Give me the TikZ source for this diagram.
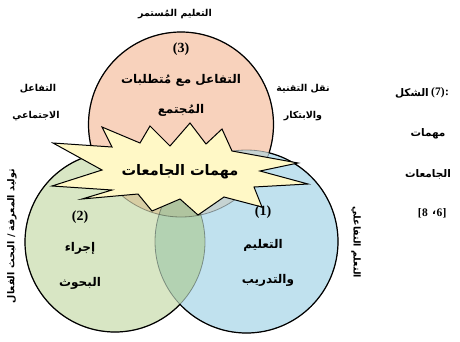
\documentclass[tikz,border=0pt]{standalone}
\usepackage{fontspec}
\TeXXeTstate=1
\newfontfamily\arabicfont[Script=Arabic]{DejaVu Sans}
\newfontfamily\numfont{Liberation Serif}
\newcommand\artext[1]{\beginR #1\endR}
\newcommand\lrtext[1]{\beginL #1\endL}

\definecolor{peach}{HTML}{F8D2BC}
\definecolor{leaf}{HTML}{D8E6C4}
\definecolor{sky}{HTML}{C0E1EE}
\definecolor{peachleaf}{HTML}{D8CEA4}
\definecolor{peachsky}{HTML}{C6D3D2}
\definecolor{leafsky}{HTML}{B3D2B2}
\definecolor{allthree}{HTML}{B0C49F}
\definecolor{burst}{HTML}{FFF8C6}

\tikzset{
  outline/.style={draw=black, line width=1.2pt},
  faintline/.style={draw=black, draw opacity=0.35, line width=0.8pt},
  lbl/.style={font=\arabicfont\bfseries\fontsize{9.5}{10}\selectfont, inner sep=0pt},
  vlbl/.style={font=\arabicfont\bfseries\fontsize{9.5}{10}\selectfont, inner sep=0pt},
  inlbl/.style={font=\arabicfont\bfseries\fontsize{12}{13}\selectfont, inner sep=0pt},
  corelbl/.style={font=\arabicfont\bfseries\fontsize{14.5}{15}\selectfont, inner sep=0pt},
  numlbl/.style={font=\numfont\bfseries\fontsize{14}{15}\selectfont, inner sep=0pt},
  sidelbl/.style={font=\arabicfont\bfseries\fontsize{10.5}{12}\selectfont, inner sep=0pt},
  sidenum/.style={font=\numfont\bfseries\fontsize{11.5}{13}\selectfont, inner sep=0pt},
}

\begin{document}
\begin{tikzpicture}[x=1pt,y=-1pt]
\useasboundingbox (0,0) rectangle (460,341);
\fill[white] (0,0) rectangle (460,341);

% circle centres
\coordinate (cT) at (181,124.5);
\coordinate (cG) at (115,242);
\coordinate (cB) at (246.5,241.5);
\def\rT{92.5pt}
\def\rG{90pt}
\def\rB{91.5pt}

% base fills
\fill[peach] (cT) circle[radius=\rT];
\fill[leaf] (cG) circle[radius=\rG];
\fill[sky] (cB) circle[radius=\rB];

% pairwise overlaps
\begin{scope}
  \clip (cT) circle[radius=\rT];
  \fill[peachsky] (cB) circle[radius=\rB];
  \fill[peachleaf] (cG) circle[radius=\rG];
\end{scope}
\begin{scope}
  \clip (cG) circle[radius=\rG];
  \fill[leafsky] (cB) circle[radius=\rB];
  \clip (cB) circle[radius=\rB];
  \fill[allthree] (cT) circle[radius=\rT];
\end{scope}

% inner arcs, faint
\path[faintline] (cT) circle[radius=\rT];
\path[faintline] (cG) circle[radius=\rG];
\path[faintline] (cB) circle[radius=\rB];

% outer arcs, black
\begin{scope}[even odd rule]
  \clip (-20,-20) rectangle (480,360) (cG) circle[radius=\rG];
  \clip (-20,-20) rectangle (480,360) (cB) circle[radius=\rB];
  \path[outline] (cT) circle[radius=\rT];
\end{scope}
\begin{scope}[even odd rule]
  \clip (-20,-20) rectangle (480,360) (cT) circle[radius=\rT];
  \clip (-20,-20) rectangle (480,360) (cB) circle[radius=\rB];
  \path[outline] (cG) circle[radius=\rG];
\end{scope}
\begin{scope}[even odd rule]
  \clip (-20,-20) rectangle (480,360) (cT) circle[radius=\rT];
  \clip (-20,-20) rectangle (480,360) (cG) circle[radius=\rG];
  \path[outline] (cB) circle[radius=\rB];
\end{scope}

% central burst
\draw[fill=burst, draw=black, line width=1pt, line join=miter]
  (53,143) -- (112,147) -- (102,127) -- (140,143) -- (150,126) -- (170,146)
  -- (190,123) -- (206,144) -- (222,129) -- (232,151) -- (298,163)
  -- (260,171) -- (308,184) -- (254,187) -- (262,207) -- (224,197)
  -- (198,215) -- (180,199) -- (152,211) -- (138,194) -- (82,199)
  -- (112,190) -- (52,186) -- (102,170) -- cycle;
\node[corelbl] (core) at (180,172) {\artext{مهمات الجامعات}};

% top circle texts
\node[numlbl] (n3) at (181,49) {(3)};
\node[inlbl] (t3a) at (181,80) {\artext{التفاعل مع مُتطلبات}};
\node[inlbl] (t3b) at (181,110) {\artext{المُجتمع}};

% left circle texts
\node[numlbl] (n2) at (80,217) {(2)};
\node[inlbl] (t2a) at (80,248) {\artext{إجراء}};
\node[inlbl] (t2b) at (80,283) {\artext{البحوث}};

% right circle texts
\node[numlbl] (n1) at (263,212) {(1)};
\node[inlbl] (t1a) at (263,245) {\artext{التعليم}};
\node[inlbl] (t1b) at (268,280) {\artext{والتدريب}};

% outside labels
\node[lbl] (top) at (175,14) {\artext{التعليم المُستمر}};
\node[lbl] (soc1) at (38,89) {\artext{التفاعل}};
\node[lbl] (soc2) at (36,116) {\artext{الاجتماعي}};
\node[lbl] (tec1) at (303,89) {\artext{نقل التقنية}};
\node[lbl] (tec2) at (303,116) {\artext{والابتكار}};
\node[vlbl, rotate=90] (know) at (12,236) {\artext{توليد المعرفة / البحث الفعال}};
\node[vlbl, rotate=-90] (inter) at (356,242) {\artext{التعلم التفاعلي}};

% caption column: each piece placed on its own so the reading order is fixed
\node[sidelbl, anchor=east] (cap1a) at (429,93) {\artext{الشكل}};
\node[sidenum, anchor=west] (cap1b) at (431,93) {\lrtext{(7)}};
\node[sidenum, anchor=west] (cap1c) at (cap1b.east) {\lrtext{:}};
\node[sidelbl] (cap2) at (428,134) {\artext{مهمات}};
\node[sidelbl] (cap3) at (428,174) {\artext{الجامعات}};
\node[sidenum, anchor=east] (cap4b) at (428,213) {\lrtext{8}};
\node[sidenum, anchor=east] (cap4a) at (cap4b.west) {\lrtext{[}};
\node[sidelbl, anchor=west] (cap4c) at (432,213) {\artext{،}};
\node[sidenum, anchor=west] (cap4d) at (cap4c.east) {\lrtext{6}};
\node[sidenum, anchor=west] (cap4e) at (cap4d.east) {\lrtext{]}};
\end{tikzpicture}
\end{document}
